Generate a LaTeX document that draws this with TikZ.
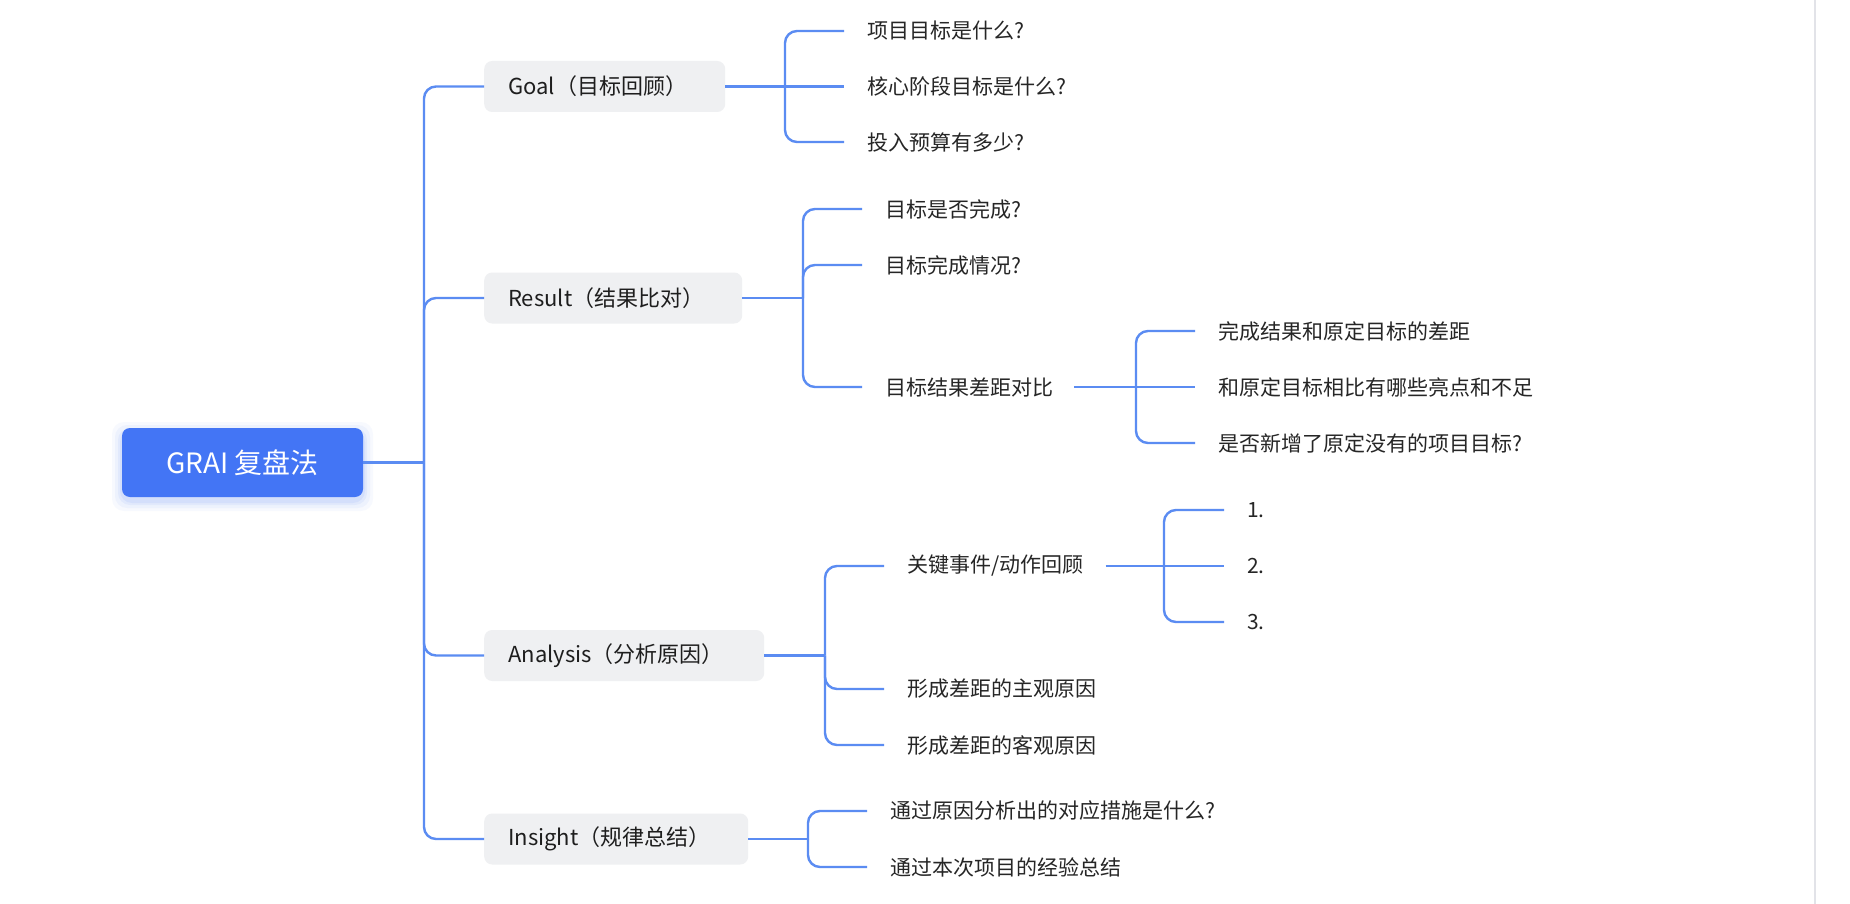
\documentclass[tikz,border=0pt]{standalone}
\usepackage{fontspec}
\setmainfont{Noto Sans CJK SC}
\definecolor{linkblue}{HTML}{5B8CF2}
\definecolor{rootblue}{HTML}{4375F5}
\definecolor{boxgray}{HTML}{EFF0F2}
\definecolor{txtdark}{HTML}{1E1E1E}
\definecolor{txtchild}{HTML}{262626}
\definecolor{sidegray}{HTML}{E2E3E8}
\tikzset{
  link/.style={draw=linkblue, line width=2.4pt, rounded corners=12pt},
  rootbox/.style={fill=rootblue, rounded corners=8pt, minimum width=241pt, minimum height=69pt, inner sep=0pt, text=white, font=\fontsize{28}{32}\selectfont},
  catbox/.style={fill=boxgray, rounded corners=8pt, minimum height=51pt, inner ysep=0pt, inner xsep=24pt, align=left, anchor=west, text=txtdark, font=\fontsize{22}{26}\selectfont},
  leaf/.style={anchor=west, inner sep=0pt, text=txtchild, font=\fontsize{21}{25}\selectfont},
}
\begin{document}
\begin{tikzpicture}[x=1pt, y=-1pt]
\useasboundingbox[fill=white] (0,0) rectangle (1850,904);
\draw[sidegray, line width=2pt] (1815,0) -- (1815,904);

% root shadow
\foreach \g/\o in {10/0.04, 7/0.05, 4/0.07, 2/0.08}{
  \fill[rootblue, opacity=\o, rounded corners=12pt] (122-\g,432-\g) rectangle (363+\g,501+\g);
}
\node[rootbox] (root) at (242.5,462.5) {GRAI 复盘法};

% category boxes (width = text width + 48)
\node[catbox, text width=193pt] (goal) at (484,86.5) {Goal（目标回顾）};
\node[catbox, text width=210pt] (result) at (484,298) {Result（结果比对）};
\node[catbox, text width=232pt] (analysis) at (484,655.5) {Analysis（分析原因）};
\node[catbox, text width=216pt] (insight) at (484,839) {Insight（规律总结）};

% trunk
\coordinate (trunk) at (424,462.5);
\draw[link] (root.east) -- (trunk);
\foreach \n in {goal,result,analysis,insight}{
  \draw[link] (trunk) |- (\n.west);
}

% Goal children
\node[leaf] (g1) at (867,31) {项目目标是什么?};
\node[leaf] (g2) at (867,86.5) {核心阶段目标是什么?};
\node[leaf] (g3) at (867,142) {投入预算有多少?};
\coordinate (gB) at (785,86.5);
\draw[link] (goal.east) -- (gB);
\foreach \c in {g1,g3}{ \draw[link] (gB) |- ([xshift=-23pt]\c.west); }
\draw[link] (gB) -- ([xshift=-23pt]g2.west);

% Result children
\node[leaf] (r1) at (885,209) {目标是否完成?};
\node[leaf] (r2) at (885,265) {目标完成情况?};
\node[leaf] (r3) at (885,387) {目标结果差距对比};
\coordinate (rB) at (803,298);
\draw[link] (result.east) -- (rB);
\foreach \c in {r1,r2,r3}{ \draw[link] (rB) |- ([xshift=-23pt]\c.west); }

% r3 children
\node[leaf] (s1) at (1218,331) {完成结果和原定目标的差距};
\node[leaf] (s2) at (1218,387) {和原定目标相比有哪些亮点和不足};
\node[leaf] (s3) at (1218,443) {是否新增了原定没有的项目目标?};
\coordinate (sB) at (1136,387);
\draw[link] ([xshift=21pt]r3.east) -- (sB);
\foreach \c in {s1,s3}{ \draw[link] (sB) |- ([xshift=-23pt]\c.west); }
\draw[link] (sB) -- ([xshift=-23pt]s2.west);

% Analysis children
\node[leaf] (a1) at (907,566) {关键事件/动作回顾};
\node[leaf] (a2) at (907,689) {形成差距的主观原因};
\node[leaf] (a3) at (907,745) {形成差距的客观原因};
\coordinate (aB) at (825,655.5);
\draw[link] (analysis.east) -- (aB);
\foreach \c in {a1,a2,a3}{ \draw[link] (aB) |- ([xshift=-23pt]\c.west); }

% a1 children
\node[leaf] (k1) at (1247,510) {1.};
\node[leaf] (k2) at (1247,566) {2.};
\node[leaf] (k3) at (1247,622) {3.};
\coordinate (kB) at (1164,566);
\draw[link] ([xshift=22pt]a1.east) -- (kB);
\foreach \c in {k1,k3}{ \draw[link] (kB) |- ([xshift=-23pt]\c.west); }
\draw[link] (kB) -- ([xshift=-23pt]k2.west);

% Insight children
\node[leaf] (i1) at (890,811) {通过原因分析出的对应措施是什么?};
\node[leaf] (i2) at (890,867) {通过本次项目的经验总结};
\coordinate (iB) at (808,839);
\draw[link] (insight.east) -- (iB);
\foreach \c in {i1,i2}{ \draw[link] (iB) |- ([xshift=-23pt]\c.west); }
\end{tikzpicture}
\end{document}
